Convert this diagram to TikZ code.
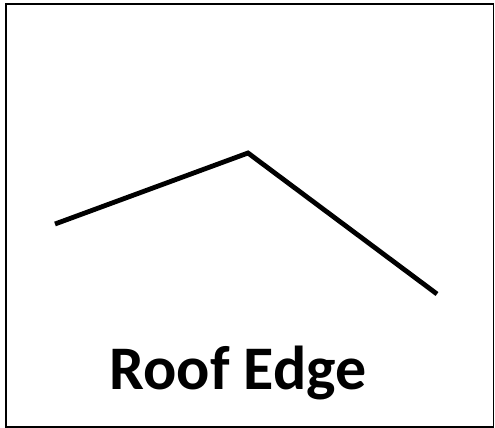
\documentclass[tikz,border=0pt]{standalone}
\usepackage{fontspec}
\setmainfont{Carlito}
\begin{document}
\begin{tikzpicture}[x=1pt,y=-1pt,
  frame/.style={draw=black,line width=1.5pt},
  edge/.style={draw=black,line width=4.8pt},
  lbl/.style={font=\bfseries\fontsize{62}{72}\selectfont,inner sep=0pt,anchor=base}]
\useasboundingbox (0,0) rectangle (495,428);
\draw[frame] (6,4) rectangle (493.5,427);
\coordinate (p1) at (55,224);
\coordinate (p2) at (248,153);
\coordinate (p3) at (437,294);
\draw[edge] (p1) -- (p2) -- (p3);
\node[lbl] (t) at (238,389) {Roof Edge};
\end{tikzpicture}
\end{document}
